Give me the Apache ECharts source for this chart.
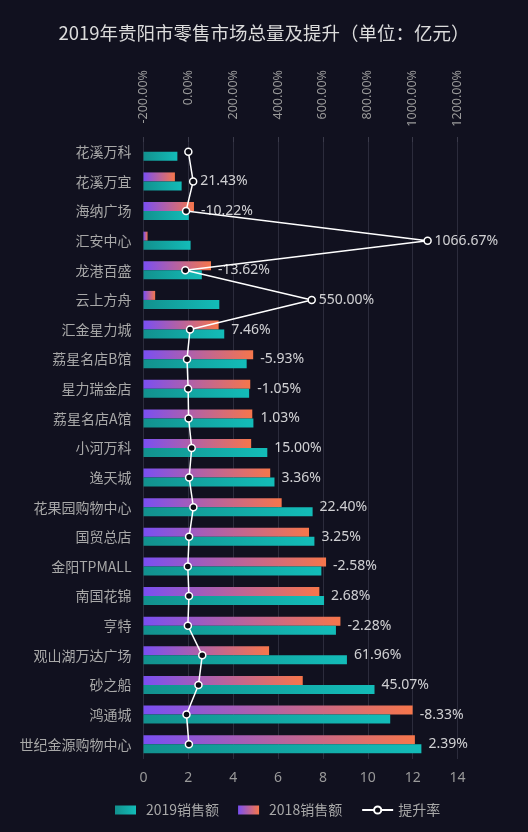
<!DOCTYPE html>
<html>
<head>
<meta charset="utf-8">
<script src="https://cdn.jsdelivr.net/npm/echarts@6/dist/echarts.min.js"></script>
<style>
html,body{margin:0;padding:0;background:#11111f;}
#chart{width:528px;height:832px;}
</style>
</head>
<body>
<div id="chart"></div>
<script>
var categories = ['花溪万科','花溪万宜','海纳广场','汇安中心','龙港百盛','云上方舟','汇金星力城','荔星名店B馆','星力瑞金店','荔星名店A馆','小河万科','逸天城','花果园购物中心','国贸总店','金阳TPMALL','南国花锦','亨特','观山湖万达广场','砂之船','鸿通城','世纪金源购物中心'];
var sales2019 = [1.51, 1.7, 2.02, 2.1, 2.6, 3.38, 3.6, 4.6, 4.71, 4.9, 5.52, 5.84, 7.54, 7.62, 7.93, 8.05, 8.58, 9.07, 10.3, 11, 12.39];
var sales2018 = [0, 1.4, 2.25, 0.18, 3.01, 0.52, 3.35, 4.89, 4.76, 4.85, 4.8, 5.65, 6.16, 7.38, 8.14, 7.84, 8.78, 5.6, 7.1, 12, 12.1];
var rates = [0, 21.43, -10.22, 1066.67, -13.62, 550.00, 7.46, -5.93, -1.05, 1.03, 15.00, 3.36, 22.40, 3.25, -2.58, 2.68, -2.28, 61.96, 45.07, -8.33, 2.39];
var salesTicks = {min: 0, max: 14, interval: 2};
var rateTicks = {min: -200, max: 1200, interval: 200};

var labelPoints = [];
categories.forEach(function (c, i) {
  if (!sales2018[i]) return;
  var rateInSales = (rates[i] - rateTicks.min) / (rateTicks.max - rateTicks.min) * salesTicks.max;
  labelPoints.push({value: [Math.max(sales2018[i], sales2019[i], rateInSales), i], rate: rates[i]});
});

var barIcon = 'path://M0,0H21V9H0Z';
var chart = echarts.init(document.getElementById('chart'));
chart.setOption({
  backgroundColor: '#11111f',
  title: {
    text: '2019年贵阳市零售市场总量及提升（单位：亿元）',
    left: 'center', top: 19,
    textStyle: {color: '#dcdcdc', fontSize: 18.5, fontWeight: 'normal', fontFamily: 'Noto Sans CJK SC'}
  },
  legend: {
    data: [{name: '2019销售额', icon: barIcon}, {name: '2018销售额', icon: barIcon}, {name: '提升率'}],
    bottom: 10, left: 110,
    itemWidth: 31, itemHeight: 9, itemGap: 19, symbolKeepAspect: true,
    textStyle: {color: '#a8a8a8', fontSize: 14, fontFamily: 'Noto Sans CJK SC'}
  },
  grid: {left: 143.5, right: 70.5, top: 137, bottom: 73},
  xAxis: [{
    type: 'value', position: 'bottom',
    min: salesTicks.min, max: salesTicks.max, interval: salesTicks.interval,
    axisLine: {show: false},
    axisTick: {show: false},
    axisLabel: {color: '#9a9a9a', fontSize: 14, margin: 12, fontFamily: 'Noto Sans'},
    splitLine: {show: true, lineStyle: {color: '#2c2c3c', width: 1}}
  }, {
    type: 'value', position: 'top',
    min: rateTicks.min, max: rateTicks.max, interval: rateTicks.interval,
    axisLine: {show: false},
    axisTick: {show: true, inside: true, length: 5, lineStyle: {color: '#3a3a4a'}},
    axisLabel: {color: '#9a9a9a', fontSize: 12.5, rotate: -90, margin: 67, align: 'right', fontFamily: 'Noto Sans',
      formatter: function (v) { return v.toFixed(2) + '%'; }},
    splitLine: {show: false}
  }],
  yAxis: {
    type: 'category', data: categories, inverse: true,
    axisLine: {show: false},
    axisTick: {show: false},
    axisLabel: {color: '#a8a8a8', fontSize: 14, margin: 12, fontFamily: 'Noto Sans CJK SC'}
  },
  series: [{
    name: '2018销售额', type: 'bar', xAxisIndex: 0,
    data: sales2018, barWidth: 9, barGap: '0%',
    itemStyle: {color: new echarts.graphic.LinearGradient(0, 0, 1, 0, [
      {offset: 0, color: '#7a4ff2'}, {offset: 1, color: '#f6764b'}])}
  }, {
    name: '2019销售额', type: 'bar', xAxisIndex: 0,
    data: sales2019, barWidth: 9, barGap: '0%',
    itemStyle: {color: new echarts.graphic.LinearGradient(0, 0, 1, 0, [
      {offset: 0, color: '#12918e'}, {offset: 1, color: '#13bcb8'}])}
  }, {
    name: '提升率', type: 'line', xAxisIndex: 1,
    data: rates,
    symbol: 'circle', symbolSize: 7,
    lineStyle: {color: '#ffffff', width: 1.5},
    itemStyle: {color: '#0b0b14', borderColor: '#ffffff', borderWidth: 1.5},
    z: 5
  }, {
    name: 'rateLabels', type: 'scatter', xAxisIndex: 0,
    data: labelPoints, symbolSize: 0, silent: true, z: 6,
    label: {show: true, position: 'right', distance: 7, color: '#ffffff', fontSize: 14, fontFamily: 'Noto Sans',
      formatter: function (p) { return p.data.rate.toFixed(2) + '%'; }}
  }]
});
</script>
</body>
</html>
